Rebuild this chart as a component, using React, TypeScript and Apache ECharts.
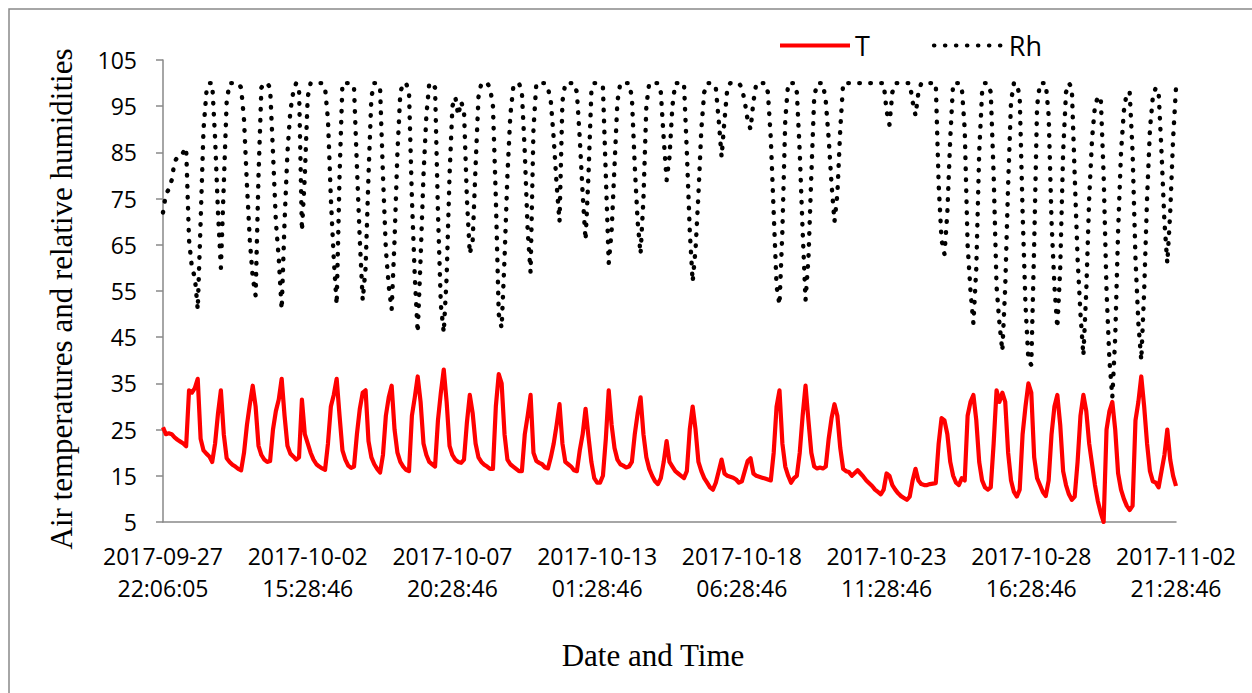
import React, { useEffect, useRef } from "react";
import * as echarts from "echarts";

const xTickLabels = [
  "2017-09-27 22:06:05",
  "2017-10-02 15:28:46",
  "2017-10-07 20:28:46",
  "2017-10-13 01:28:46",
  "2017-10-18 06:28:46",
  "2017-10-23 11:28:46",
  "2017-10-28 16:28:46",
  "2017-11-02 21:28:46",
];
const POINTS_PER_TICK = 50;
const yTicks = [5, 15, 25, 35, 45, 55, 65, 75, 85, 95, 105];

const temperature = [
  25.5, 24.0, 24.2, 24.0, 23.3, 22.8, 22.4, 22.0, 21.4, 33.5,
  33.0, 34.0, 36.0, 23.0, 20.5, 19.8, 19.2, 18.0, 22.0, 28.5,
  33.5, 24.0, 18.8, 18.0, 17.4, 17.0, 16.5, 16.2, 20.0, 26.0,
  30.5, 34.5, 30.0, 21.5, 19.5, 18.5, 18.0, 18.2, 25.0, 29.0,
  31.5, 36.0, 28.0, 21.5, 19.8, 19.2, 18.5, 19.0, 31.5, 24.0,
  22.0, 20.0, 18.5, 17.5, 17.0, 16.6, 16.3, 22.0, 30.0, 32.5,
  36.0, 28.0, 20.5, 18.5, 17.2, 16.7, 17.0, 24.0, 29.5, 33.0,
  33.5, 22.5, 19.0, 17.5, 16.5, 15.7, 19.5, 28.0, 32.0, 34.5,
  25.0, 20.0, 18.0, 17.0, 16.3, 16.0, 28.0, 32.0, 36.5, 31.0,
  22.0, 19.5, 18.0, 17.5, 17.0, 27.0, 33.0, 38.0, 31.0, 21.5,
  19.5, 18.5, 18.0, 17.8, 18.5, 26.5, 32.5, 28.5, 22.0, 19.0,
  18.0, 17.4, 17.0, 16.5, 16.5, 30.0, 37.0, 35.0, 24.0, 18.5,
  17.5, 17.0, 16.5, 16.0, 16.0, 24.0, 28.0, 32.5, 20.0, 18.2,
  17.8, 17.5, 16.8, 16.6, 19.0, 22.0, 26.0, 30.5, 22.0, 18.0,
  17.5, 17.0, 16.2, 16.0, 20.5, 24.0, 29.5, 23.5, 18.0, 14.5,
  13.5, 13.5, 15.0, 23.0, 33.5, 26.0, 21.0, 18.5, 17.5, 17.2,
  16.8, 17.0, 18.0, 24.0, 28.5, 32.0, 24.0, 19.0, 16.5, 15.0,
  13.8, 13.2, 14.5, 18.0, 22.5, 18.0, 17.0, 16.0, 15.5, 15.0,
  14.5, 16.0, 25.0, 30.0, 25.0, 18.0, 16.0, 14.5, 13.5, 12.5,
  12.0, 13.5, 16.0, 18.5, 15.5, 15.0, 14.8, 14.6, 14.2, 13.5,
  13.8, 16.0, 18.2, 18.8, 15.5, 15.0, 14.8, 14.6, 14.4, 14.2,
  14.0, 20.0, 30.0, 33.5, 22.0, 17.0, 15.0, 13.5, 14.5, 15.0,
  20.0, 28.0, 34.5, 27.0, 20.0, 17.0, 16.6, 16.8, 16.6, 17.0,
  23.0, 27.5, 30.5, 28.0, 21.0, 16.5, 16.0, 15.8, 15.0, 15.6,
  16.2, 15.5, 14.8, 14.0, 13.4, 12.8, 12.0, 11.5, 11.0, 12.0,
  15.5, 15.0, 13.0, 12.0, 11.2, 10.6, 10.2, 9.8, 10.5, 14.0,
  16.5, 14.0, 13.2, 13.0, 13.0, 13.2, 13.3, 13.4, 22.0, 27.5,
  27.0, 24.0, 18.0, 15.0, 13.5, 13.0, 14.5, 14.0, 28.0, 31.0,
  32.5, 27.0, 18.0, 14.0, 12.5, 12.0, 12.5, 22.0, 33.5, 31.0,
  33.0, 31.0, 20.0, 14.0, 11.5, 10.5, 12.0, 24.0, 30.0, 35.0,
  33.0, 19.0, 14.5, 13.0, 11.5, 10.6, 14.0, 24.0, 30.0, 32.5,
  26.0, 16.0, 13.0, 11.0, 9.8, 10.5, 18.0, 28.0, 32.5, 29.0,
  22.0, 17.5, 13.0, 9.5, 7.0, 5.0, 25.0, 29.0, 31.0, 25.0,
  15.5, 12.0, 10.0, 8.5, 7.6, 8.5, 27.0, 31.0, 36.5, 30.0,
  22.0, 16.0, 13.8, 13.5, 12.5, 16.0, 19.5, 25.0, 18.5, 15.0,
  12.8,
];

const humidity = [
  72, 76, 77, 79, 83, 84, 84, 85, 86, 66,
  60, 58, 51, 70, 90, 98, 100, 100, 88, 72,
  60, 78, 96, 100, 100, 100, 100, 99, 92, 78,
  66, 58, 54, 80, 99, 100, 100, 99, 85, 70,
  62, 51, 70, 85, 94, 98, 100, 99, 68, 80,
  97, 100, 100, 100, 100, 100, 99, 92, 75, 62,
  52, 80, 100, 100, 100, 100, 99, 82, 66, 53,
  60, 80, 97, 100, 100, 99, 80, 64, 56, 51,
  66, 85, 98, 100, 100, 98, 75, 58, 46, 62,
  80, 93, 100, 100, 99, 72, 52, 46, 58, 80,
  95, 97, 93, 96, 94, 75, 63, 66, 82, 97,
  100, 100, 100, 99, 95, 75, 50, 47, 62, 80,
  93, 99, 100, 100, 98, 85, 68, 59, 90, 100,
  100, 100, 100, 99, 96, 88, 78, 70, 96, 100,
  100, 100, 100, 98, 88, 76, 66, 80, 98, 100,
  100, 100, 99, 80, 61, 68, 82, 96, 100, 100,
  100, 100, 97, 82, 70, 63, 75, 95, 100, 100,
  100, 100, 98, 88, 79, 84, 95, 100, 100, 100,
  100, 85, 68, 57, 64, 76, 90, 98, 100, 100,
  100, 99, 92, 84, 92, 99, 100, 100, 100, 100,
  99, 96, 92, 90, 96, 100, 100, 100, 100, 98,
  88, 72, 56, 52, 68, 92, 100, 100, 100, 98,
  85, 68, 53, 62, 80, 97, 100, 100, 100, 96,
  88, 78, 70, 76, 90, 100, 100, 100, 100, 100,
  100, 100, 100, 100, 100, 100, 100, 100, 100, 100,
  94, 91, 98, 100, 100, 100, 100, 100, 100, 96,
  93, 98, 100, 100, 100, 100, 100, 100, 78, 66,
  63, 72, 88, 100, 100, 100, 99, 90, 65, 55,
  48, 60, 85, 98, 100, 100, 98, 80, 56, 48,
  42, 56, 78, 96, 100, 100, 97, 72, 52, 40,
  39, 65, 95, 100, 100, 100, 93, 70, 56, 47,
  60, 85, 98, 100, 99, 80, 62, 50, 41, 55,
  75, 88, 95, 97, 97, 80, 55, 40, 32, 45,
  68, 85, 94, 98, 98, 85, 62, 48, 40, 55,
  75, 90, 97, 99, 98, 85, 70, 61, 72, 88,
  99,
];

function parseStamp(s: string): number {
  const [d, t] = s.split(" ");
  const [y, m, dd] = d.split("-").map(Number);
  const [h, mi, se] = t.split(":").map(Number);
  return Date.UTC(y, m - 1, dd, h, mi, se);
}
function fmtStamp(ms: number): string {
  const d = new Date(ms);
  const p = (n: number) => String(n).padStart(2, "0");
  return `${d.getUTCFullYear()}-${p(d.getUTCMonth() + 1)}-${p(d.getUTCDate())} ${p(
    d.getUTCHours()
  )}:${p(d.getUTCMinutes())}:${p(d.getUTCSeconds())}`;
}
function buildCategories(): string[] {
  const out: string[] = [];
  for (let k = 0; k < xTickLabels.length - 1; k++) {
    const a = parseStamp(xTickLabels[k]);
    const b = parseStamp(xTickLabels[k + 1]);
    for (let j = 0; j < POINTS_PER_TICK; j++) {
      out.push(j === 0 ? xTickLabels[k] : fmtStamp(Math.round((a + ((b - a) * j) / POINTS_PER_TICK) / 1000) * 1000));
    }
  }
  out.push(xTickLabels[xTickLabels.length - 1]);
  return out;
}

export default function App() {
  const ref = useRef<HTMLDivElement>(null);
  useEffect(() => {
    if (!ref.current) return;
    const chart = echarts.init(ref.current, undefined, { renderer: "svg" });
    const categories = buildCategories();
    const axisGray = "#898989";
    const sans = "Open Sans";
    const serif = "Liberation Serif";
    chart.setOption({
      animation: false,
      backgroundColor: "#ffffff",
      textStyle: { fontFamily: sans },
      grid: { left: 163, top: 60, right: 76, bottom: 171 },
      legend: {
        left: 773,
        top: 27,
        itemWidth: 70,
        itemHeight: 14,
        itemGap: 62,
        data: ["T", "Rh"],
        itemStyle: { opacity: 0 },
        lineStyle: { width: 4 },
        textStyle: { fontFamily: sans, fontSize: 27, color: "#000" },
      },
      xAxis: {
        type: "category",
        data: categories,
        boundaryGap: false,
        axisLine: { lineStyle: { color: axisGray, width: 1.5 } },
        axisTick: { show: false },
        axisLabel: {
          interval: POINTS_PER_TICK - 1,
          formatter: (v: string) => v.replace(" ", "\n"),
          fontFamily: sans,
          fontSize: 23,
          lineHeight: 32,
          color: "#000",
          margin: 18,
        },
        name: "Date and Time",
        nameLocation: "middle",
        nameGap: 118,
        nameTextStyle: { fontFamily: serif, fontSize: 31, color: "#000", padding: [0, 33, 0, 0] },
      },
      yAxis: {
        type: "value",
        min: 5,
        max: 105,
        splitLine: { show: false },
        axisLine: { show: true, lineStyle: { color: axisGray, width: 1.5 } },
        axisTick: { show: true, length: 7, customValues: yTicks, lineStyle: { color: axisGray, width: 1.5 } },
        axisLabel: { customValues: yTicks, fontFamily: sans, fontSize: 23, color: "#000", margin: 26 },
        name: "Air temperatures and relative humidities",
        nameLocation: "middle",
        nameGap: 86,
        nameRotate: 90,
        nameTextStyle: { fontFamily: serif, fontSize: 31, color: "#000", padding: [0, 16, 0, 0] },
      },
      series: [
        {
          name: "T",
          type: "line",
          data: temperature,
          symbol: "none",
          lineStyle: { color: "#ff0000", width: 4.2, join: "round" },
          itemStyle: { color: "#ff0000" },
          z: 2,
        },
        {
          name: "Rh",
          type: "line",
          data: humidity,
          symbol: "none",
          lineStyle: { color: "#000000", width: 4.4, type: [0.6, 10.4], cap: "round", join: "round" },
          itemStyle: { color: "#000000" },
          z: 3,
        },
      ],
      graphic: [
        {
          type: "rect",
          silent: true,
          z: -1,
          shape: { x: 9, y: 9, width: 1300, height: 800 },
          style: { fill: "none", stroke: axisGray, lineWidth: 1.5 },
        },
      ],
    });
    return () => chart.dispose();
  }, []);
  return (
    <div
      ref={ref}
      style={{ position: "absolute", left: 0, top: 0, width: 1252, height: 693 }}
    />
  );
}
